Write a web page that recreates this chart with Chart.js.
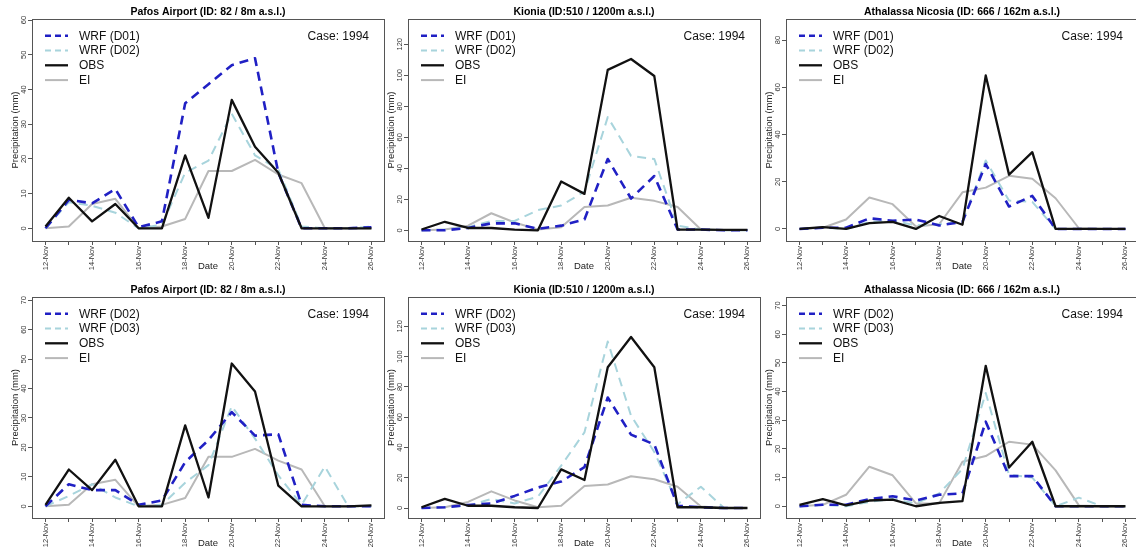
<!DOCTYPE html>
<html>
<head>
<meta charset="utf-8">
<script src="https://cdn.jsdelivr.net/npm/chart.js@4.4.0/dist/chart.umd.min.js"></script>
<style>
html, body { margin: 0; padding: 0; background: #fff; width: 1136px; height: 552px; overflow: hidden; }
body { position: relative; }
canvas { position: absolute; }
</style>
</head>
<body>
<script>
// days of November 1994
const days = [12, 13, 14, 15, 16, 17, 18, 19, 20, 21, 22, 23, 24, 25, 26];
const xTickLabels = ['12-Nov', '', '14-Nov', '', '16-Nov', '', '18-Nov', '', '20-Nov', '', '22-Nov', '', '24-Nov', '', '26-Nov'];

const yTicks60 = [0, 10, 20, 30, 40, 50, 60];
const yTicks70 = [0, 10, 20, 30, 40, 50, 60, 70];
const yTicks80 = [0, 20, 40, 60, 80];
const yTicks120 = [0, 20, 40, 60, 80, 100, 120];

// top row (D01 / D02)
const pafosD01 = [0, 8.2, 7.2, 11.3, 0.3, 2, 36, 41.5, 47, 49, 16, 0, 0, 0, 0.3];
const pafosD02 = [0, 7.5, 6.5, 4.5, 0, 1, 16, 19.5, 33, 21, 17, 0.5, 0, 0, 0.5];
const pafosObs = [0.5, 8.8, 2, 7, 0, 0, 21, 3, 37, 23.5, 16, 0, 0, 0, 0];
const pafosEi = [0, 0.5, 7, 8.5, 0, 0.5, 2.7, 16.5, 16.5, 19.7, 15.5, 13, 0, 0, 0];

const kioniaD01 = [0, 0, 1.5, 4.5, 4.5, 1, 3, 7, 46, 20.5, 35, 0.5, 0.5, 0, 0];
const kioniaD02 = [0, 0.5, 2, 6, 6, 13, 16, 25, 73, 48, 46, 3, 0.5, 0, 0];
const kioniaObs = [0.5, 5.5, 1.5, 1.5, 0.5, 0, 31.5, 23.5, 103.5, 110.5, 99.5, 0.5, 0.5, 0.3, 0.3];
const kioniaEi = [0, 0.5, 3, 11, 5, 0.5, 2, 15, 16, 21, 19, 15, 0.5, 0, 0];

const athalassaD01 = [0, 0.5, 0.5, 4.5, 3.5, 4, 1.5, 3, 27.5, 9.5, 14, 0, 0, 0, 0];
const athalassaD02 = [0, 0.5, 0, 3, 3.5, 1.5, 2, 3, 29, 12, 11.5, 0, 0, 0, 0];
const athalassaObs = [0, 0.8, 0, 2.5, 3, 0, 5.5, 1.8, 65, 23, 32.5, 0, 0, 0, 0];
const athalassaEi = [0, 0.5, 4, 13.3, 10.5, 1, 2, 15.5, 17.5, 22.5, 21.3, 13, 0.3, 0, 0];

// bottom row (D02 / D03)
const pafosD02b = [0, 7.5, 5.5, 5.5, 0.5, 2, 15, 22.5, 32, 24, 24.5, 0.5, 0, 0, 0];
const pafosD03b = [0, 3.5, 7.5, 3, 0, 0.5, 8, 14, 34, 23, 10.5, 0.5, 13.5, 0, 0];
const pafosObsB = [0.5, 12.5, 5.5, 15.8, 0, 0, 27.5, 3, 48.5, 39, 7, 0, 0, 0, 0.3];
const pafosEiB = [0, 0.5, 7.5, 9, 0, 0.5, 2.8, 16.8, 16.8, 19.5, 15.5, 12.5, 0, 0, 0];

const kioniaD02b = [0, 0.5, 2, 3, 8, 13.5, 17.5, 27, 73, 48.5, 42, 1.5, 0.5, 0, 0];
const kioniaD03b = [0, 0.5, 1.5, 6, 3, 7.5, 28, 50, 110, 61, 37, 2.5, 14, 0, 0];
const kioniaObsB = [0.5, 6, 1.5, 1.5, 0.5, 0, 25.5, 18.5, 93, 113, 93, 0.5, 0.5, 0, 0];
const kioniaEiB = [0, 0.5, 4, 11, 5, 0.5, 1.5, 14.5, 15.5, 21, 19, 14, 1, 0, 0];

const athalassaD02b = [0, 0.5, 0.5, 2.5, 3.5, 2, 4, 4.5, 29.5, 10.5, 10.5, 0, 0, 0, 0];
const athalassaD03b = [0, 0.5, 0, 1.5, 2.5, 1, 4.5, 13, 39.5, 11, 10, 0, 3, 0, 0];
const athalassaObsB = [0.5, 2.5, 0.3, 2, 2.3, 0, 1.2, 1.8, 49, 13.5, 22.5, 0, 0, 0, 0];
const athalassaEiB = [0, 0.5, 4, 13.8, 10.8, 1, 1, 15.5, 17.5, 22.5, 21.5, 12.5, 0.3, 0, 0];

const titlePafos = 'Pafos Airport (ID: 82 / 8m a.s.l.)';
const titleKionia = 'Kionia (ID:510 / 1200m a.s.l.)';
const titleAthalassa = 'Athalassa Nicosia (ID: 666 / 162m a.s.l.)';

const darkBlue = '#2020c4';
const lightBlue = '#a8d4dc';
const grey = '#b8b8b8';
const FONT = '"Liberation Sans", Arial, Helvetica, sans-serif';

const colLeft = [0, 376, 754];
const rowTop = [0, 277];
const rowPadTop = [19, 20];
const W = 397, H = 277, AXW = 32, AXH = 36;

const panels = [
    { col: 0, row: 0, title: titlePafos, names: ['WRF (D01)', 'WRF (D02)'], a: pafosD01, b: pafosD02, obs: pafosObs, ei: pafosEi, yTicks: yTicks60, yMin: -3.66, yMax: 60.3 },
    { col: 1, row: 0, title: titleKionia, names: ['WRF (D01)', 'WRF (D02)'], a: kioniaD01, b: kioniaD02, obs: kioniaObs, ei: kioniaEi, yTicks: yTicks120, yMin: -6.9, yMax: 136.3 },
    { col: 2, row: 0, title: titleAthalassa, names: ['WRF (D01)', 'WRF (D02)'], a: athalassaD01, b: athalassaD02, obs: athalassaObs, ei: athalassaEi, yTicks: yTicks80, yMin: -5.1, yMax: 88.9 },
    { col: 0, row: 1, title: titlePafos, names: ['WRF (D02)', 'WRF (D03)'], a: pafosD02b, b: pafosD03b, obs: pafosObsB, ei: pafosEiB, yTicks: yTicks70, yMin: -3.97, yMax: 71.1 },
    { col: 1, row: 1, title: titleKionia, names: ['WRF (D02)', 'WRF (D03)'], a: kioniaD02b, b: kioniaD03b, obs: kioniaObsB, ei: kioniaEiB, yTicks: yTicks120, yMin: -6.6, yMax: 139.4 },
    { col: 2, row: 1, title: titleAthalassa, names: ['WRF (D02)', 'WRF (D03)'], a: athalassaD02b, b: athalassaD03b, obs: athalassaObsB, ei: athalassaEiB, yTicks: yTicks70, yMin: -4.1, yMax: 73 }
];

function pts(arr) {
    return days.map((d, i) => ({ x: d, y: arr[i] }));
}

// frame, rotated y labels, titles and legend drawn R-style
function decor(p) {
    return {
        id: 'decor',
        afterDraw(chart) {
            const ctx = chart.ctx;
            const a = chart.chartArea;
            const y = chart.scales.y;
            ctx.save();
            ctx.strokeStyle = '#555';
            ctx.lineWidth = 1;
            ctx.setLineDash([]);
            ctx.strokeRect(Math.round(a.left) + 0.5, Math.round(a.top) + 0.5, Math.round(a.right - a.left), Math.round(a.bottom - a.top));

            ctx.fillStyle = '#333';
            ctx.textAlign = 'center';
            ctx.textBaseline = 'middle';
            ctx.font = '7.5px ' + FONT;
            p.yTicks.forEach(v => {
                ctx.save();
                ctx.translate(a.left - 8, y.getPixelForValue(v));
                ctx.rotate(-Math.PI / 2);
                ctx.fillText(String(v), 0, 0);
                ctx.restore();
            });

            ctx.fillStyle = '#222';
            ctx.font = '9.5px ' + FONT;
            ctx.save();
            ctx.translate(a.left - 16.5, (a.top + a.bottom) / 2);
            ctx.rotate(-Math.PI / 2);
            ctx.fillText('Precipitation (mm)', 0, 0);
            ctx.restore();
            ctx.fillText('Date', (a.left + a.right) / 2, a.bottom + 25);

            ctx.fillStyle = '#000';
            ctx.font = 'bold 10.5px ' + FONT;
            ctx.fillText(p.title, (a.left + a.right) / 2, a.top - 6.5);

            // legend
            const items = [
                { t: p.names[0], c: darkBlue, w: 2.6, d: [6, 4] },
                { t: p.names[1], c: lightBlue, w: 2, d: [6, 4] },
                { t: 'OBS', c: '#111', w: 2.3, d: [] },
                { t: 'EI', c: grey, w: 2, d: [] }
            ];
            ctx.font = '12px ' + FONT;
            ctx.textAlign = 'left';
            items.forEach((it, i) => {
                const yy = a.top + 16.7 + i * 14.8;
                ctx.strokeStyle = it.c;
                ctx.lineWidth = it.w;
                ctx.setLineDash(it.d);
                ctx.beginPath();
                ctx.moveTo(a.left + 13, yy);
                ctx.lineTo(a.left + 36, yy);
                ctx.stroke();
                ctx.fillStyle = '#111';
                ctx.fillText(it.t, a.left + 47, yy + 0.5);
            });
            ctx.textAlign = 'right';
            ctx.fillText('Case: 1994', a.right - 15, a.top + 17.2);
            ctx.restore();
        }
    };
}

panels.forEach(p => {
    const cv = document.createElement('canvas');
    cv.width = W;
    cv.height = H;
    cv.style.left = colLeft[p.col] + 'px';
    cv.style.top = rowTop[p.row] + 'px';
    document.body.appendChild(cv);

    new Chart(cv, {
        type: 'line',
        data: {
            datasets: [
                { data: pts(p.obs), borderColor: '#111', borderWidth: 2.3, order: 0 },
                { data: pts(p.a), borderColor: darkBlue, borderWidth: 2.6, borderDash: [9, 6], order: 1 },
                { data: pts(p.b), borderColor: lightBlue, borderWidth: 2, borderDash: [9, 6], order: 2 },
                { data: pts(p.ei), borderColor: grey, borderWidth: 2, order: 3 }
            ]
        },
        options: {
            responsive: false,
            animation: false,
            devicePixelRatio: 1,
            layout: { padding: { top: rowPadTop[p.row], right: W - AXW - 352, left: 0, bottom: 0 } },
            elements: { point: { radius: 0 }, line: { tension: 0, borderJoinStyle: 'round' } },
            plugins: { legend: { display: false }, tooltip: { enabled: false } },
            scales: {
                x: {
                    type: 'linear',
                    min: 11.42,
                    max: 26.54,
                    afterBuildTicks: s => { s.ticks = days.map(v => ({ value: v })); },
                    afterFit: s => { s.height = AXH; },
                    grid: { drawOnChartArea: false, tickLength: 4, color: '#555' },
                    border: { display: false },
                    ticks: {
                        autoSkip: false,
                        minRotation: 90,
                        maxRotation: 90,
                        padding: 1,
                        color: '#333',
                        font: { size: 7.5, family: FONT },
                        callback: (v, i) => xTickLabels[i]
                    }
                },
                y: {
                    min: p.yMin,
                    max: p.yMax,
                    afterBuildTicks: s => { s.ticks = p.yTicks.map(v => ({ value: v })); },
                    afterFit: s => { s.width = AXW; },
                    grid: { drawOnChartArea: false, tickLength: 4, color: '#555' },
                    border: { display: false },
                    ticks: { display: false }
                }
            }
        },
        plugins: [decor(p)]
    });
});
</script>
</body>
</html>
